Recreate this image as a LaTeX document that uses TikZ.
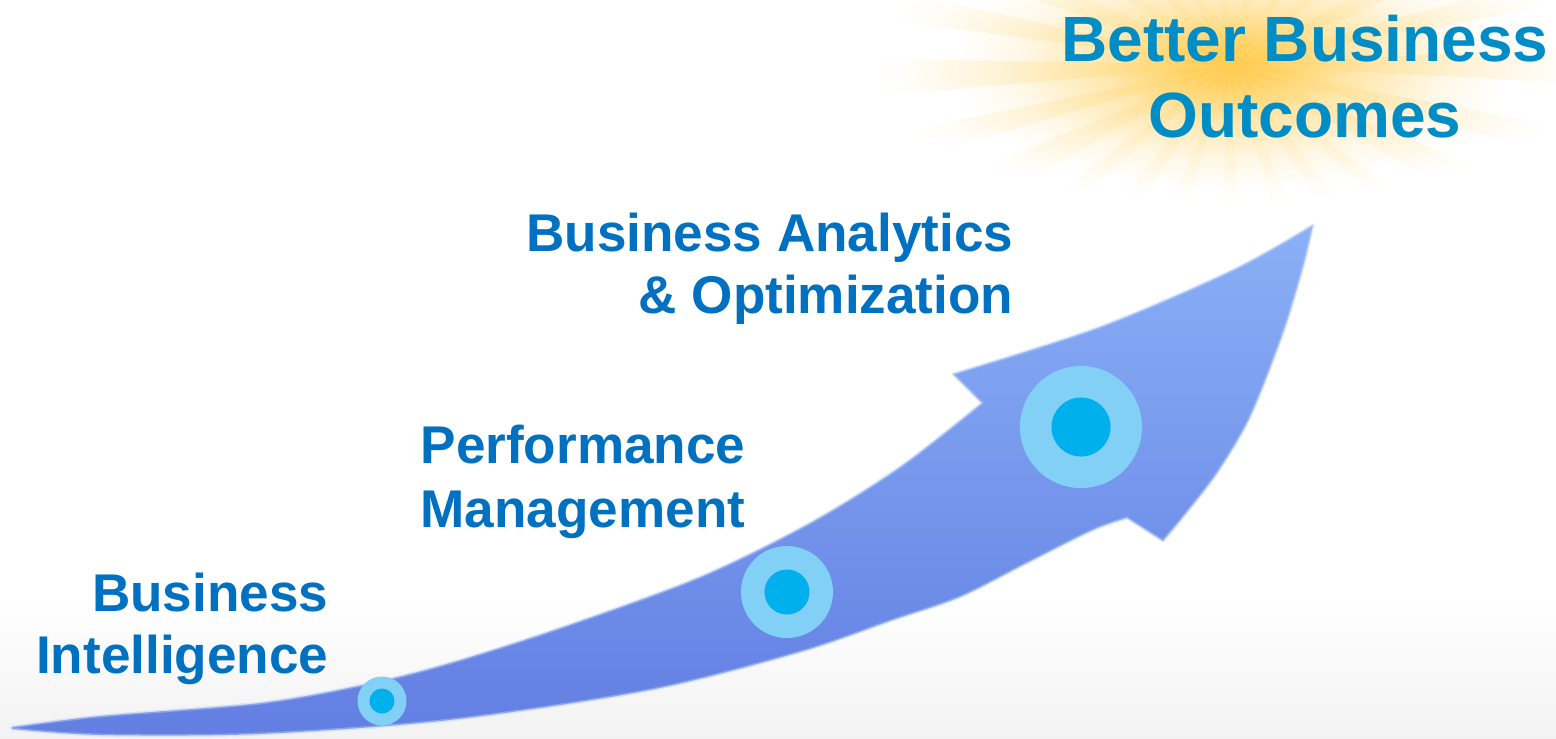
\documentclass[tikz,border=0pt]{standalone}
\usepackage{fontspec}
\setmainfont{Liberation Sans}
\definecolor{txtblue}{RGB}{0,112,192}
\definecolor{topblue}{RGB}{0,140,196}
\definecolor{ringc}{RGB}{130,208,245}
\definecolor{dotc}{RGB}{0,176,236}
\definecolor{arrowtop}{RGB}{138,176,246}
\definecolor{arrowbot}{RGB}{98,126,226}
\definecolor{sunc}{RGB}{255,204,80}
\pgfdeclareradialshading{sunglow}{\pgfpointorigin}{color(0bp)=(sunc); color(4bp)=(sunc!92!white); color(11bp)=(sunc!48!white); color(19bp)=(sunc!14!white); color(25bp)=(white); color(50bp)=(white)}
\pgfdeclareradialshading{sunrays}{\pgfpointorigin}{color(0bp)=(sunc); color(8bp)=(sunc!62!white); color(16bp)=(sunc!24!white); color(22bp)=(sunc!5!white); color(25bp)=(white); color(50bp)=(white)}
\tikzset{
  label/.style={inner sep=0pt, text=txtblue, font=\bfseries\fontsize{15.1pt}{17.6pt}\selectfont},
  ring/.style={circle, fill=ringc, inner sep=0pt},
  dot/.style={circle, fill=dotc, inner sep=0pt},
}
\begin{document}
\begin{tikzpicture}[x=0.01cm, y=-0.01cm]
\useasboundingbox (0,0) rectangle (1556,738);
% background
\fill[white] (0,0) rectangle (1556,738);
\shade[top color=white, bottom color=black!5] (0,600) rectangle (1556,738);
% sun glow
\coordinate (sun) at (1230,65);
\shade[shading=sunglow] (sun) ellipse [x radius=280, y radius=125];
\begin{scope}
\clip foreach \a/\w in {0/3,13/2.5,26/3.5,40/2.5,54/3,70/3,90/3,110/3,126/3,141/2.5,154/3.5,166/2.5,178/3,190/2.5,202/3.5,215/2.5,228/3,245/3,265/3,285/3,305/3,320/2.5,334/3.5,347/2.5} {(sun) -- +({\a-\w}:420) -- +({\a+\w}:420) -- cycle};
\shade[shading=sunrays] (sun) ellipse [x radius=360, y radius=140];
\end{scope}
% arrow
\path[draw=arrowtop!60!white, draw opacity=0.45, line width=0.03cm, line join=round, top color=arrowtop, bottom color=arrowbot]
  plot[smooth, tension=0.5] coordinates {(12,727) (100,716) (260,703) (367,684) (450,663) (560,628) (700,577) (810,523) (900,467) (982,403)}
  -- plot[smooth, tension=0.5] coordinates {(953,374) (1100,327) (1233,270) (1313,225)}
  -- plot[smooth, tension=0.5] coordinates {(1313,225) (1303,267) (1283,333) (1250,417) (1217,473) (1183,517) (1163,541)}
  -- plot[smooth, tension=0.5] coordinates {(1127,518) (1093,530) (1027,563) (960,597) (893,620) (800,652) (650,690) (450,720) (260,734) (100,735) (12,729)}
  -- cycle;
% milestones
\node[ring, minimum size=0.49cm] (r1) at (382,701) {};
\node[dot, minimum size=0.25cm] (d1) at (r1) {};
\node[ring, minimum size=0.92cm] (r2) at (787,592) {};
\node[dot, minimum size=0.45cm] (d2) at (r2) {};
\node[ring, minimum size=1.22cm] (r3) at (1081,427) {};
\node[dot, minimum size=0.59cm] (d3) at (r3) {};
% labels (base anchor = baseline of the last line)
\node[label, align=right, anchor=base east] (bi) at (329,673) {Business\\Intelligence};
\node[label, align=left, anchor=base west, font=\bfseries\fontsize{15.1pt}{18.2pt}\selectfont] (pm) at (420,527) {Performance\\Management};
\node[label, align=right, anchor=base east, font=\bfseries\fontsize{15.1pt}{17.4pt}\selectfont] (ba) at (1014,313) {Business Analytics\\\& Optimization};
\node[label, align=center, anchor=base, text=topblue, font=\bfseries\fontsize{18.2pt}{21.6pt}\selectfont] (bbo) at (1305,137) {Better Business\\Outcomes};
\end{tikzpicture}
\end{document}
